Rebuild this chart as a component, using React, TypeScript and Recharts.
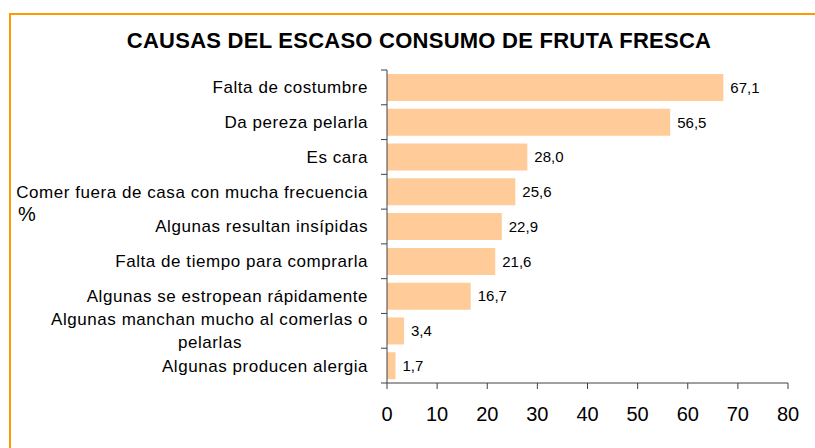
import React from 'react';
import { BarChart, Bar, XAxis, YAxis, LabelList, Label } from 'recharts';

const title = 'CAUSAS DEL ESCASO CONSUMO DE FRUTA FRESCA';
const axisTitle = '%';
const categories = [
  'Falta de costumbre',
  'Da pereza pelarla',
  'Es cara',
  'Comer fuera de casa con mucha frecuencia',
  'Algunas resultan insípidas',
  'Falta de tiempo para comprarla',
  'Algunas se estropean rápidamente',
  'Algunas manchan mucho al comerlas o pelarlas',
  'Algunas producen alergia',
];
const values = [67.1, 56.5, 28.0, 25.6, 22.9, 21.6, 16.7, 3.4, 1.7];
const xTicks = [0, 10, 20, 30, 40, 50, 60, 70, 80];
const wrappedLabels: Record<string, string[]> = {
  'Algunas manchan mucho al comerlas o pelarlas': ['Algunas manchan mucho al comerlas o', 'pelarlas'],
};

const data = categories.map((name, i) => ({ name, value: values[i] }));

const FONT = '"Liberation Sans", Arial, sans-serif';
const AXIS = '#404040';
const W = 815;
const H = 448;
const M = { top: 70, right: 27, bottom: 25, left: 0 };
const X_AXIS_H = 40;
const PLOT_H = H - M.top - M.bottom - X_AXIS_H;

const YTick = (props: any) => {
  const { x, y, payload, index } = props;
  const half = payload && typeof payload.offset === 'number' && payload.offset > 0
    ? payload.offset
    : PLOT_H / categories.length / 2;
  const lines = wrappedLabels[payload.value] ?? [payload.value];
  const isLast = index === categories.length - 1;
  const tx = x - 19;
  return (
    <g>
      <line x1={x - 6} x2={x} y1={y - half} y2={y - half} stroke={AXIS} strokeWidth={1} />
      {isLast && <line x1={x - 6} x2={x} y1={y + half} y2={y + half} stroke={AXIS} strokeWidth={1} />}
      {lines.length === 1 ? (
        <text x={tx} y={y} dy="0.35em" textAnchor="end" fontFamily={FONT} fontSize={17} letterSpacing={0.55} fill="#000">
          {lines[0]}
        </text>
      ) : (
        lines.map((ln, i) => (
          <text
            key={i}
            x={i === 0 ? tx : tx - 158}
            y={y + (i - (lines.length - 1) / 2) * 23}
            dy="0.35em"
            textAnchor={i === 0 ? 'end' : 'middle'}
            fontFamily={FONT}
            fontSize={17}
            letterSpacing={0.55}
            fill="#000"
          >
            {ln}
          </text>
        ))
      )}
    </g>
  );
};

const fmt = (v: any) => Number(v).toFixed(1).replace('.', ',');

export default function App() {
  return (
    <div style={{ position: 'fixed', left: 0, top: 0, width: W, height: H, overflow: 'hidden', background: '#fff' }}>
      <div
        style={{
          position: 'absolute',
          left: 9,
          top: 13,
          width: 900,
          height: 600,
          border: '2px solid #FF9900',
          boxSizing: 'border-box',
        }}
      />
      <div style={{ position: 'absolute', left: 0, top: 0 }}>
        <BarChart width={W} height={H} data={data} layout="vertical" margin={M}>
          <XAxis
            type="number"
            domain={[0, 80]}
            ticks={xTicks}
            interval={0}
            height={X_AXIS_H}
            tickSize={6}
            tickMargin={18}
            axisLine={{ stroke: AXIS }}
            tickLine={{ stroke: AXIS }}
            tick={{ fontSize: 20, fill: '#000', fontFamily: FONT }}
          />
          <YAxis
            type="category"
            dataKey="name"
            width={387}
            interval={0}
            tickSize={0}
            tickMargin={0}
            tickLine={false}
            axisLine={{ stroke: AXIS }}
            tick={<YTick />}
          >
            <Label
              value={axisTitle}
              position="insideLeft"
              offset={18}
              dy={-13}
              fontSize={20}
              fill="#000"
              fontFamily={FONT}
            />
          </YAxis>
          <Bar dataKey="value" fill="#FFCC99" barSize={27} isAnimationActive={false}>
            <LabelList
              dataKey="value"
              position="right"
              offset={7}
              formatter={fmt}
              fontSize={15}
              fill="#000"
              fontFamily={FONT}
            />
          </Bar>
        </BarChart>
      </div>
      <svg width={W} height={H} style={{ position: 'absolute', left: 0, top: 0, pointerEvents: 'none' }}>
        <text x={419} y={48} textAnchor="middle" fontFamily={FONT} fontSize={22} fontWeight="bold" letterSpacing={0.25} fill="#000">
          {title}
        </text>
      </svg>
    </div>
  );
}
